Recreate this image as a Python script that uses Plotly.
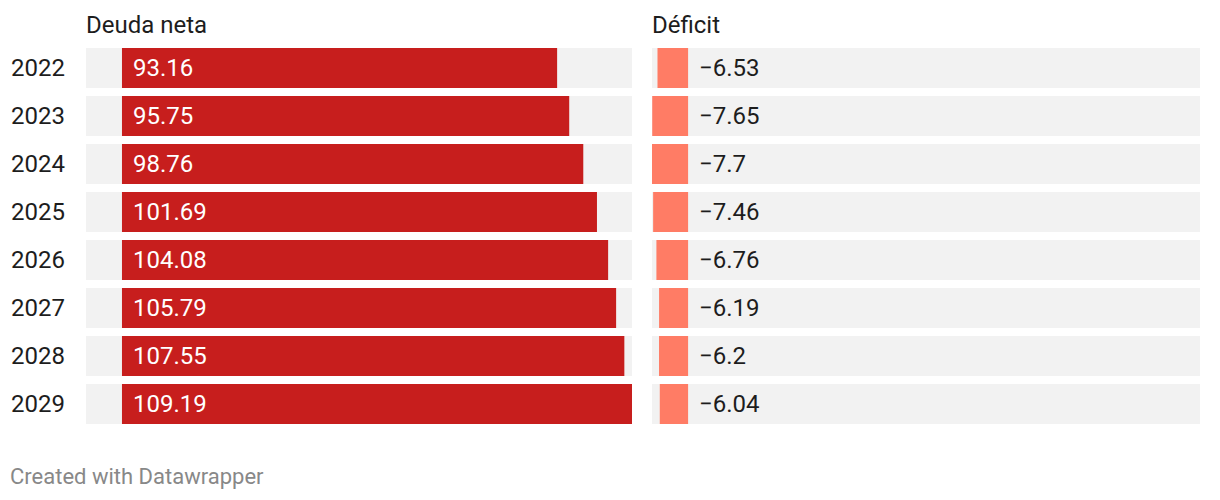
import plotly.graph_objects as go

# ── Data ──────────────────────────────────────────────────────────────────
years   = ["2022", "2023", "2024", "2025", "2026", "2027", "2028", "2029"]
deuda   = [93.16, 95.75, 98.76, 101.69, 104.08, 105.79, 107.55, 109.19]
deficit = [-6.53, -7.65, -7.7, -7.46, -6.76, -6.19, -6.2, -6.04]

# ── Palette ───────────────────────────────────────────────────────────────
_RED    = "#c71e1d"
_SALMON = "#ff7c65"
_BG     = "#f2f2f2"
_TXT    = "#1d1d1d"
_MUTED  = "#888888"
_FONT   = "Roboto, sans-serif"

W, H = 1220, 500
FS = 24

# shared scale for both columns
x_min = min(deficit)
x_max = max(deuda)
span = x_max - x_min


def fmt(v):
    s = f"{v:g}"
    return s.replace("-", "\u2212")


fig = go.Figure()

for xa, vals, color in (("x", deuda, _RED), ("x2", deficit, _SALMON)):
    # gray row backgrounds
    fig.add_trace(go.Bar(
        y=years, x=[span] * len(years), base=[x_min] * len(years),
        orientation="h", marker=dict(color=_BG, line=dict(width=0)),
        xaxis=xa, yaxis="y", hoverinfo="skip",
    ))
    fig.add_trace(go.Bar(
        y=years, x=vals, orientation="h",
        marker=dict(color=color, line=dict(width=0)),
        xaxis=xa, yaxis="y",
        hovertemplate="%{y}: %{x}<extra></extra>",
    ))

annotations = []
for i, v in enumerate(deuda):
    annotations.append(dict(
        x=0, y=i, xref="x", yref="y", text=fmt(v), showarrow=False,
        xanchor="left", yanchor="middle", xshift=9,
        font=dict(family=_FONT, size=FS, color="#ffffff"),
    ))
for i, v in enumerate(deficit):
    annotations.append(dict(
        x=0, y=i, xref="x2", yref="y", text=fmt(v), showarrow=False,
        xanchor="left", yanchor="middle", xshift=9,
        font=dict(family=_FONT, size=FS, color=_TXT),
    ))

for ref, title in (("x domain", "Deuda neta"), ("x2 domain", "Déficit")):
    annotations.append(dict(
        x=0, y=1, xref=ref, yref="paper", text=title, showarrow=False,
        xanchor="left", yanchor="bottom", yshift=3, xshift=-2,
        font=dict(family=_FONT, size=FS, color=_TXT),
    ))

annotations.append(dict(
    x=10 / W, y=0, xref="paper", yref="paper", text="Created with Datawrapper",
    showarrow=False, xanchor="left", yanchor="middle", yshift=-48, xshift=-2,
    font=dict(family=_FONT, size=22, color=_MUTED),
))

axis_common = dict(
    range=[x_min, x_max], showgrid=False, zeroline=False,
    showticklabels=False, showline=False, fixedrange=True,
)

fig.update_layout(
    width=W, height=H,
    paper_bgcolor="#ffffff", plot_bgcolor="#ffffff",
    margin=dict(l=0, r=0, t=44, b=72),
    barmode="overlay", bargap=1 / 6, showlegend=False,
    font=dict(family=_FONT, color=_TXT),
    xaxis=dict(domain=[86 / W, 632 / W], **axis_common),
    xaxis2=dict(domain=[652 / W, 1200 / W], anchor="y", **axis_common),
    yaxis=dict(
        type="category", range=[len(years) - 0.5, -0.5], autorange=False,
        showgrid=False, zeroline=False, showline=False, fixedrange=True,
        ticks="", ticklabelstandoff=20,
        tickfont=dict(family=_FONT, size=FS, color=_TXT),
    ),
    annotations=annotations,
)

fig.write_html(
    "out.html",
    config=dict(displayModeBar=False),
    post_script="document.body.style.margin='0';",
)
